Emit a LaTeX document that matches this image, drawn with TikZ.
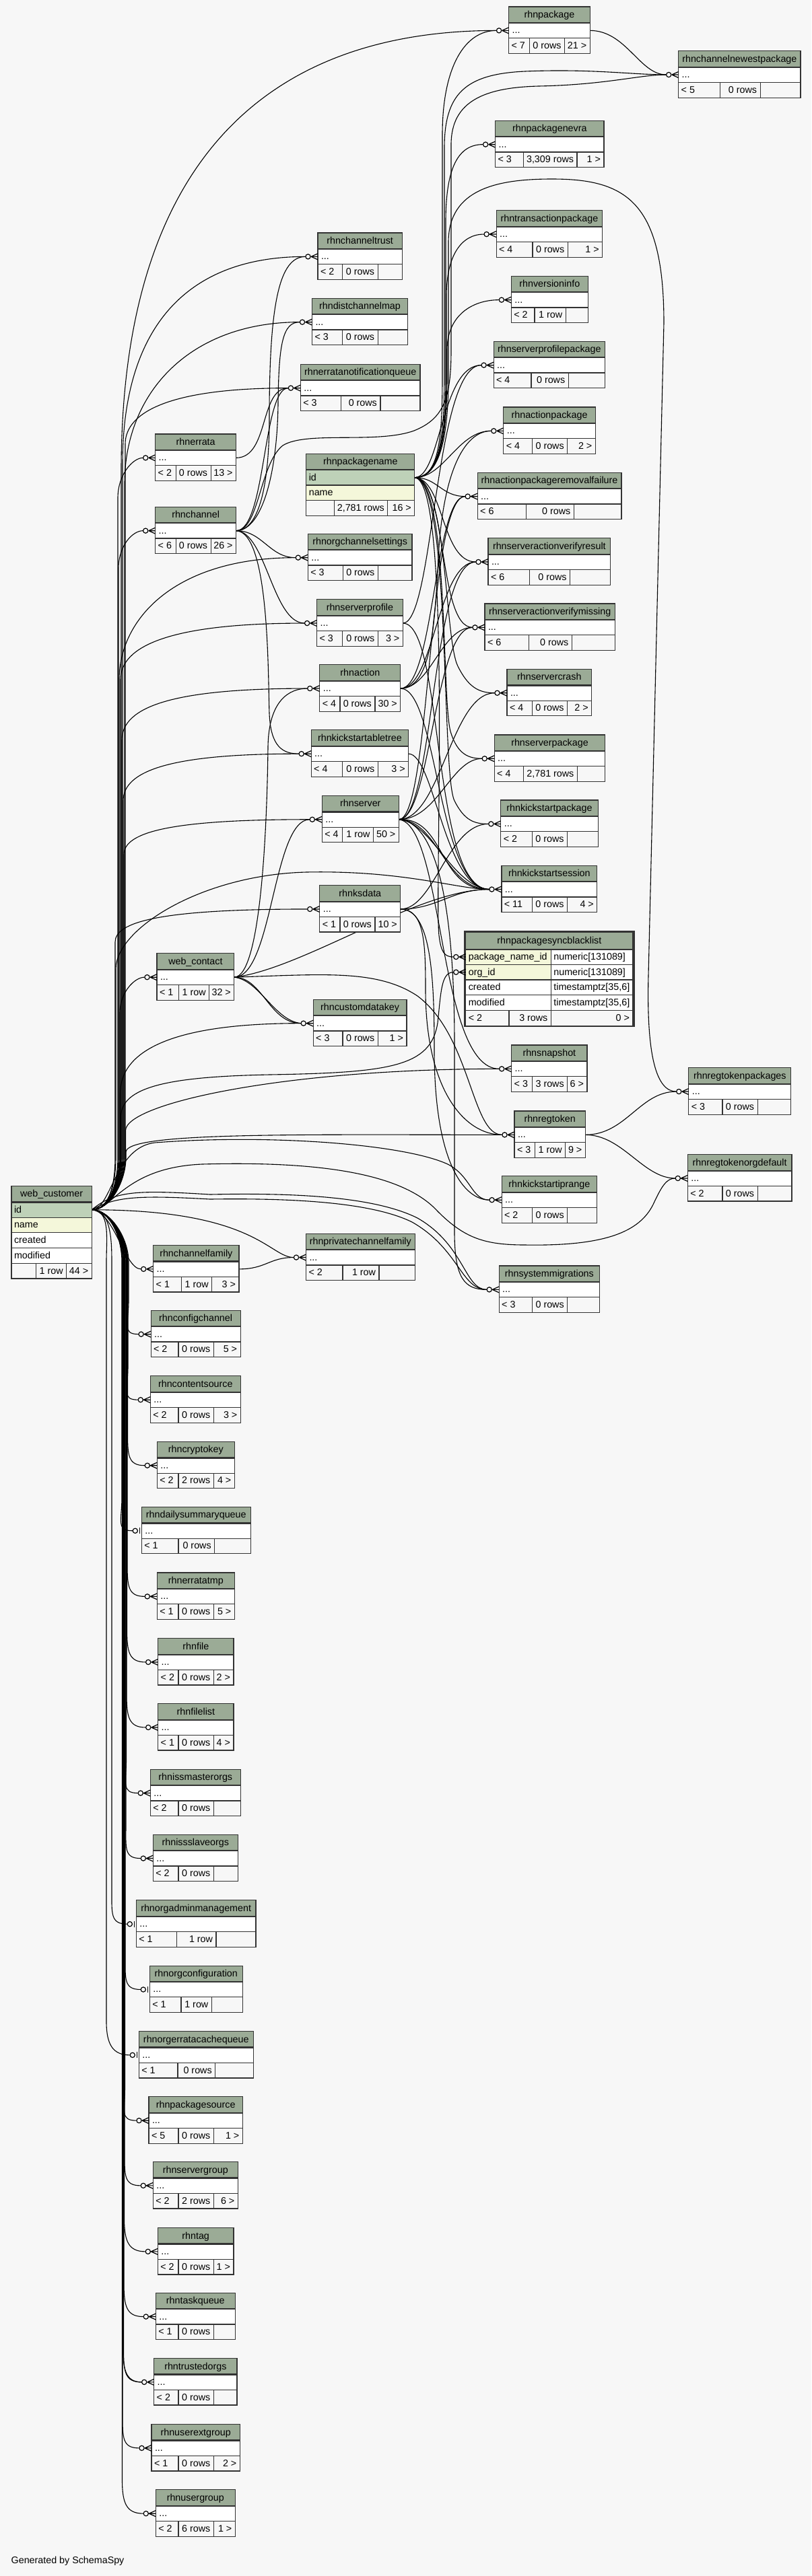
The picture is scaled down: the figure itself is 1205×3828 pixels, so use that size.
\documentclass[tikz,border=0pt]{standalone}
\usepackage{fontspec}
\setmainfont{Liberation Sans}
\usetikzlibrary{calc}
\pgfdeclarelayer{bottom}
\pgfdeclarelayer{edges}
\pgfsetlayers{bottom,edges,main}
\definecolor{bgc}{HTML}{F7F7F7}
\definecolor{hdrc}{HTML}{9BAB96}
\definecolor{pkc}{HTML}{BED1B8}
\definecolor{idxc}{HTML}{F4F7DA}
\definecolor{bc}{HTML}{333333}
\tikzset{
 fk/.style={draw=black, line width=1.1pt},
 mk/.style={draw=black, line width=1.2pt},
 cellb/.style={draw=bc, line width=1.2pt, inner sep=0pt, outer sep=0pt, anchor=north west},
 hdr/.style={cellb, fill=hdrc, minimum height=24pt},
 rowc/.style={cellb, fill=white, minimum height=22.7pt},
 ftc/.style={cellb, fill=bgc, minimum height=22.7pt},
 txt/.style={inner sep=0pt, outer sep=0pt, text height=12pt, text depth=3pt},
 htxt/.style={txt, anchor=center},
 ltxt/.style={txt, anchor=west},
 rtxt/.style={txt, anchor=east},
}
\newcommand\crowmark[2]{%
 \draw[mk, fill=white] (#1-14.5,#2) circle[radius=3.6pt];
 \draw[mk] (#1-10,#2) -- (#1,#2-4.5) (#1-10,#2) -- (#1,#2) (#1-10,#2) -- (#1,#2+4.5);}
\newcommand\onemark[2]{%
 \draw[mk, fill=white] (#1-9.5,#2) circle[radius=3.6pt];
 \draw[mk, line width=1.6pt] (#1-3,#2-4.5) -- (#1-3,#2+4.5);}
\newcommand\dbcore[9]{%
 \node[hdr, minimum width={#3-#2}] (#1) at (#2,#4) {};
 \node[htxt] (#1-title) at (#1.center) {\detokenize{#1}};
 \node[rowc, minimum width={#3-#2}] (#1-row) at (#2,#4+24) {};
 \node[ltxt] (#1-dots) at ([xshift=5pt]#1-row.west) {...};
 \node[ftc, minimum width={#5-#2}] (#1-fa) at (#2,#4+46.7) {};
 \node[ftc, minimum width={#6-#5}] (#1-fb) at (#5,#4+46.7) {};
 \node[ftc, minimum width={#3-#6}] (#1-fc) at (#6,#4+46.7) {};
 \node[ltxt] (#1-fat) at ([xshift=4pt]#1-fa.west) {#7};
 \node[rtxt] (#1-fbt) at ([xshift=-5pt]#1-fb.east) {#8};
 \node[rtxt] (#1-fct) at ([xshift=-5pt]#1-fc.east) {#9};
 \draw[bc, line width=2.2pt] (#1.south west) -- (#1.south east);
 \coordinate (#1-out) at (#1-row.east);}
\newcommand\dbtable[9]{\dbcore{#1}{#2}{#3}{#4}{#5}{#6}{#7}{#8}{#9}%
 \crowmark{#2}{#4+35.35}\coordinate (#1-in) at (#2-18.3,#4+35.35);}
\newcommand\dbtableone[9]{\dbcore{#1}{#2}{#3}{#4}{#5}{#6}{#7}{#8}{#9}%
 \onemark{#2}{#4+35.35}\coordinate (#1-in) at (#2-13.3,#4+35.35);}
\newcommand\fk[4]{\draw[fk] (#1) .. controls (#3) and (#4) .. (#2);}
\newcommand\wcup[5]{\draw[fk] (wc-out) .. controls +(28,0) and +(0,35) .. (#2,1720) -- (#2,#3) .. controls +(0,-#4) and +(-#5,0) .. (#1-in);}
\newcommand\wcdown[3]{\draw[fk] (wc-out) .. controls +(28,0) and +(0,-35) .. (#2,1875) -- (#2,#3-50) .. controls +(0,35) and +(-25,0) .. (#1-in);}
\begin{document}
\begin{tikzpicture}[x=1pt,y=-1pt,font=\fontsize{14.3pt}{17pt}\selectfont]
\useasboundingbox (0,0) rectangle (1205,3828);
\begin{pgfonlayer}{bottom}
\fill[bgc] (0,0) rectangle (1205,3828);
\end{pgfonlayer}

% ---------- tables ----------
\dbtable{rhnpackage}{755.6}{876.2}{10}{786.3}{838.6}{< 7}{0 rows}{21 >}
\dbtable{rhnchannelnewestpackage}{1007.7}{1189}{75.7}{1069.2}{1129.1}{< 5}{0 rows}{}
\dbtable{rhnpackagenevra}{735.6}{897}{179.3}{777.1}{857}{< 3}{3,309 rows}{1 >}
\dbtable{rhntransactionpackage}{737.1}{894.7}{312.7}{790.9}{843.2}{< 4}{0 rows}{1 >}
\dbtable{rhnversioninfo}{759.4}{873.2}{410.3}{794}{840.1}{< 2}{1 row}{}
\dbtable{rhnchanneltrust}{472}{597.2}{346}{508.8}{561.1}{< 2}{0 rows}{}
\dbtable{rhndistchannelmap}{463.5}{605.5}{443.3}{508.8}{561.1}{< 3}{0 rows}{}
\dbtable{rhnerratanotificationqueue}{446.4}{623.9}{541.3}{506.7}{564.9}{< 3}{0 rows}{}
\dbtable{rhnerrata}{230.7}{350.6}{645}{261.2}{313.1}{< 2}{0 rows}{13 >}
\dbtable{rhnchannel}{230.7}{350.6}{753.3}{261.2}{313.1}{< 6}{0 rows}{26 >}
\dbtable{rhnorgchannelsettings}{457.3}{612}{793.3}{509.2}{561.4}{< 3}{0 rows}{}
\dbtable{rhnserverprofile}{470.6}{598.3}{890.7}{508.5}{561.4}{< 3}{0 rows}{3 >}
\dbtable{rhnaction}{474.8}{594.8}{987.7}{505}{556.9}{< 4}{0 rows}{30 >}
\dbtable{rhnkickstartabletree}{462.2}{606.7}{1084.8}{508.8}{561.4}{< 4}{0 rows}{3 >}
\dbtable{rhnserver}{478.3}{592.3}{1182.4}{508.8}{554.4}{< 4}{1 row}{50 >}
\dbtable{rhnksdata}{474.8}{594.8}{1315.6}{505}{556.9}{< 1}{0 rows}{10 >}
\dbtable{web_contact}{233}{347.8}{1416.8}{265.2}{310.7}{< 1}{1 row}{32 >}
\dbtable{rhncustomdatakey}{465.2}{604}{1485.3}{508.9}{561.2}{< 3}{0 rows}{1 >}
\dbtable{rhnchannelfamily}{227.7}{354.9}{1850.5}{269.2}{314.7}{< 1}{1 row}{3 >}
\dbtable{rhnprivatechannelfamily}{454.5}{616.1}{1833.2}{508.9}{563}{< 2}{1 row}{}
\dbtable{rhnconfigchannel}{224.1}{357.1}{1947.3}{265}{317.3}{< 2}{0 rows}{5 >}
\dbtable{rhnserverprofilepackage}{733.1}{898.6}{507.3}{789}{844.2}{< 4}{0 rows}{}
\dbtable{rhnactionpackage}{747.8}{884.3}{605}{790.6}{842.7}{< 4}{0 rows}{2 >}
\dbtable{rhnactionpackageremovalfailure}{709.2}{922.9}{702.3}{781.3}{852.3}{< 6}{0 rows}{}
\dbtable{rhnserveractionverifyresult}{725}{906.7}{799.7}{786.7}{846.5}{< 6}{0 rows}{}
\dbtable{rhnserveractionverifymissing}{720}{913.3}{897}{785.2}{849.3}{< 6}{0 rows}{}
\dbtable{rhnservercrash}{753}{878.7}{994.4}{790.5}{842.6}{< 4}{0 rows}{2 >}
\dbtable{rhnserverpackage}{734.2}{898.8}{1091.9}{777.1}{857.4}{< 4}{2,781 rows}{}
\dbtable{rhnkickstartpackage}{743.8}{888.2}{1189}{790.5}{842.6}{< 2}{0 rows}{}
\dbtable{rhnkickstartsession}{744.9}{886.8}{1286.2}{790.5}{842.6}{< 11}{0 rows}{4 >}
\dbtable{rhnsnapshot}{759.7}{872}{1553}{790.6}{842.7}{< 3}{3 rows}{6 >}
\dbtable{rhnregtoken}{764}{869.3}{1651}{794.8}{839.6}{< 3}{1 row}{9 >}
\dbtable{rhnkickstartiprange}{745.1}{886.6}{1747.8}{790.6}{842.7}{< 2}{0 rows}{}
\dbtable{rhnsystemmigrations}{741.2}{890.5}{1881}{790.6}{842.7}{< 3}{0 rows}{}
\dbtable{rhnregtokenpackages}{1022.8}{1174.8}{1586.7}{1073}{1125.1}{< 3}{0 rows}{}
\dbtable{rhnregtokenorgdefault}{1021.3}{1176}{1715.6}{1073}{1125.1}{< 2}{0 rows}{}
\dbtable{rhncontentsource}{223.3}{357.3}{2044.8}{265}{317.3}{< 2}{0 rows}{3 >}
\dbtable{rhncryptokey}{233.3}{348.3}{2142.4}{265}{317.3}{< 2}{2 rows}{4 >}
\dbtableone{rhndailysummaryqueue}{210.3}{372.3}{2239.4}{265}{318.7}{< 1}{0 rows}{}
\dbtable{rhnerratatmp}{233.3}{348.3}{2337}{265}{317.3}{< 1}{0 rows}{5 >}
\dbtable{rhnfile}{234.7}{347}{2434.6}{265}{317.3}{< 2}{0 rows}{2 >}
\dbtable{rhnfilelist}{234.7}{347}{2531.6}{265}{317.3}{< 1}{0 rows}{4 >}
\dbtable{rhnissmasterorgs}{223.3}{357.3}{2629.2}{265}{317.3}{< 2}{0 rows}{}
\dbtable{rhnissslaveorgs}{227.3}{353.3}{2726.2}{265}{317.3}{< 2}{0 rows}{}
\dbtableone{rhnorgadminmanagement}{202.3}{380}{2823.8}{262.7}{321}{< 1}{1 row}{}
\dbtableone{rhnorgconfiguration}{222.3}{360.3}{2921.1}{269}{314.3}{< 1}{1 row}{}
\dbtableone{rhnorgerratacachequeue}{206.3}{376.3}{3018.5}{264}{319.7}{< 1}{0 rows}{}
\dbtable{rhnpackagesource}{221}{360.3}{3115.8}{265}{317.3}{< 5}{0 rows}{1 >}
\dbtable{rhnservergroup}{227.3}{353.3}{3212.5}{265}{317.3}{< 2}{2 rows}{6 >}
\dbtable{rhntag}{234.3}{347}{3310.5}{265}{317.3}{< 2}{0 rows}{1 >}
\dbtable{rhntaskqueue}{231.3}{349.3}{3407.2}{265}{317.3}{< 1}{0 rows}{}
\dbtable{rhntrustedorgs}{228.7}{352}{3504.5}{265}{317.3}{< 2}{0 rows}{}
\dbtable{rhnuserextgroup}{225}{356.3}{3602.5}{265}{317.3}{< 1}{0 rows}{2 >}
\dbtable{rhnusergroup}{231.3}{349.3}{3699.8}{265}{317.3}{< 2}{6 rows}{1 >}

% web_customer
\node[hdr, minimum width=119.2] (web_customer) at (17,1762.4) {};
\node[htxt] (web_customer-title) at (web_customer.center) {web\_customer};
\node[rowc, fill=pkc, minimum width=119.2] (web_customer-id) at (17,1786.4) {};
\node[ltxt] (web_customer-idt) at ([xshift=4pt]web_customer-id.west) {id};
\node[rowc, fill=idxc, minimum width=119.2] (web_customer-name) at (17,1809.1) {};
\node[ltxt] (web_customer-namet) at ([xshift=4pt]web_customer-name.west) {name};
\node[rowc, minimum width=119.2] (web_customer-created) at (17,1831.8) {};
\node[ltxt] (web_customer-createdt) at ([xshift=4pt]web_customer-created.west) {created};
\node[rowc, minimum width=119.2] (web_customer-modified) at (17,1854.5) {};
\node[ltxt] (web_customer-modifiedt) at ([xshift=4pt]web_customer-modified.west) {modified};
\node[ftc, minimum width=36.1] (web_customer-fa) at (17,1877.2) {};
\node[ftc, minimum width=45.6] (web_customer-fb) at (53.1,1877.2) {};
\node[ftc, minimum width=37.5] (web_customer-fc) at (98.7,1877.2) {};
\node[rtxt] (web_customer-fbt) at ([xshift=-5pt]web_customer-fb.east) {1 row};
\node[rtxt] (web_customer-fct) at ([xshift=-5pt]web_customer-fc.east) {44 >};
\draw[bc, line width=2.2pt] (web_customer.south west) -- (web_customer.south east);
\coordinate (wc-out) at (web_customer-id.east);

% rhnpackagename
\node[hdr, minimum width=161] (rhnpackagename) at (454.8,674.3) {};
\node[htxt] (rhnpackagename-title) at (rhnpackagename.center) {rhnpackagename};
\node[rowc, fill=pkc, minimum width=161] (rhnpackagename-id) at (454.8,698.3) {};
\node[ltxt] (rhnpackagename-idt) at ([xshift=4pt]rhnpackagename-id.west) {id};
\node[rowc, fill=idxc, minimum width=161] (rhnpackagename-name) at (454.8,721) {};
\node[ltxt] (rhnpackagename-namet) at ([xshift=4pt]rhnpackagename-name.west) {name};
\node[ftc, minimum width=41.4] (rhnpackagename-fa) at (454.8,743.7) {};
\node[ftc, minimum width=79.6] (rhnpackagename-fb) at (496.2,743.7) {};
\node[ftc, minimum width=40] (rhnpackagename-fc) at (575.8,743.7) {};
\node[rtxt] (rhnpackagename-fbt) at ([xshift=-5pt]rhnpackagename-fb.east) {2,781 rows};
\node[rtxt] (rhnpackagename-fct) at ([xshift=-5pt]rhnpackagename-fc.east) {16 >};
\draw[bc, line width=2.2pt] (rhnpackagename.south west) -- (rhnpackagename.south east);
\coordinate (pn-out) at (rhnpackagename-id.east);

% rhnpackagesyncblacklist
\draw[bc, line width=2.7pt] (690.45,1384.4) rectangle (941.25,1524.9);
\node[hdr, minimum width=248.1, minimum height=24.9pt] (rhnpackagesyncblacklist) at (691.8,1385.7) {};
\node[htxt] (bl-title) at (rhnpackagesyncblacklist.center) {rhnpackagesyncblacklist};
\node[rowc, fill=idxc, minimum width=126.6] (bl-r1a) at (691.8,1410.6) {};
\node[rowc, minimum width=121.5] (bl-r1b) at (818.4,1410.6) {};
\node[rowc, fill=idxc, minimum width=126.6] (bl-r2a) at (691.8,1433.3) {};
\node[rowc, minimum width=121.5] (bl-r2b) at (818.4,1433.3) {};
\node[rowc, minimum width=126.6] (bl-r3a) at (691.8,1456) {};
\node[rowc, minimum width=121.5] (bl-r3b) at (818.4,1456) {};
\node[rowc, minimum width=126.6] (bl-r4a) at (691.8,1478.7) {};
\node[rowc, minimum width=121.5] (bl-r4b) at (818.4,1478.7) {};
\node[ftc, minimum width=64.1] (bl-fa) at (691.8,1501.4) {};
\node[ftc, minimum width=62.5] (bl-fb) at (755.9,1501.4) {};
\node[ftc, minimum width=121.5] (bl-fc) at (818.4,1501.4) {};
\node[ltxt] (bl-t1a) at ([xshift=4pt]bl-r1a.west) {package\_name\_id};
\node[ltxt] (bl-t1b) at ([xshift=4pt]bl-r1b.west) {numeric[131089]};
\node[ltxt] (bl-t2a) at ([xshift=4pt]bl-r2a.west) {org\_id};
\node[ltxt] (bl-t2b) at ([xshift=4pt]bl-r2b.west) {numeric[131089]};
\node[ltxt] (bl-t3a) at ([xshift=4pt]bl-r3a.west) {created};
\node[ltxt] (bl-t3b) at ([xshift=4pt]bl-r3b.west) {timestamptz[35,6]};
\node[ltxt] (bl-t4a) at ([xshift=4pt]bl-r4a.west) {modified};
\node[ltxt] (bl-t4b) at ([xshift=4pt]bl-r4b.west) {timestamptz[35,6]};
\node[ltxt] (bl-fat) at ([xshift=4pt]bl-fa.west) {< 2};
\node[rtxt] (bl-fbt) at ([xshift=-5pt]bl-fb.east) {3 rows};
\node[rtxt] (bl-fct) at ([xshift=-5pt]bl-fc.east) {0 >};
\draw[bc, line width=2.2pt] (rhnpackagesyncblacklist.south west) -- (rhnpackagesyncblacklist.south east);
\crowmark{691.8}{1422}
\crowmark{691.8}{1444.65}
\coordinate (blpkg-in) at (673.5,1422);
\coordinate (blorg-in) at (673.5,1444.65);

\node[ltxt] (credit) at (16.7,3805) {Generated by SchemaSpy};

% ---------- connectors ----------
\begin{pgfonlayer}{edges}
% web_customer, upwards
\wcup{rhnpackage}{180}{700}{450}{350}
\wcup{rhnchanneltrust}{182}{690}{200}{180}
\wcup{rhndistchannelmap}{185}{720}{140}{160}
\wcup{rhnerratanotificationqueue}{186}{660}{50}{170}
\wcup{rhnerrata}{175}{740}{35}{15}
\wcup{rhnchannel}{176}{845}{35}{15}
\wcup{rhnorgchannelsettings}{177}{1010}{90}{180}
\wcup{rhnserverprofile}{179}{1010}{50}{200}
\wcup{rhnaction}{181}{1100}{50}{200}
\wcup{rhnkickstartabletree}{183}{1190}{45}{190}
\wcup{rhnserver}{184}{1270}{35}{200}
\wcup{rhnksdata}{171}{1400}{30}{220}
\wcup{web_contact}{178}{1505}{30}{15}
\wcup{rhncustomdatakey}{178.5}{1625}{60}{200}
\wcup{rhnsnapshot}{186.5}{1680}{40}{320}
\wcup{rhnregtoken}{187}{1712}{30}{300}
\draw[fk] (wc-out) .. controls +(28,0) and +(0,35) .. (172,1720) -- (172,1440) .. controls (172,1380) and (300,1300) .. (455,1296) .. controls (600,1293) and (680,1321.55) .. (rhnkickstartsession-in);
\draw[fk] (wc-out) .. controls +(28,0) and +(0,35) .. (179.5,1720) -- (179.5,1660) .. controls (179.5,1615) and (250,1600) .. (400,1597) .. controls (580,1594) and (640,1585) .. (650,1520) .. controls (655,1475) and (655,1444.65) .. (blorg-in);
\draw[fk] (wc-out) .. controls (165,1797.75) and (170,1705) .. (230,1698) .. controls (400,1685) and (600,1700) .. (665,1730) .. controls (700,1748) and (700,1783.15) .. (rhnkickstartiprange-in);
\draw[fk] (wc-out) .. controls (168,1797.75) and (185,1735) .. (300,1730) .. controls (480,1725) and (600,1745) .. (650,1800) .. controls (690,1840) and (720,1850) .. (780,1850) .. controls (900,1852) and (950,1830) .. (970,1790) .. controls (983,1762) and (990,1750.95) .. (rhnregtokenorgdefault-in);
\draw[fk] (wc-out) .. controls (170,1770) and (200,1768) .. (312,1775) .. controls (450,1772) and (560,1780) .. (620,1810) .. controls (690,1850) and (690,1916.35) .. (rhnsystemmigrations-in);
\draw[fk] (wc-out) .. controls (172,1778) and (205,1776) .. (312,1782) .. controls (445,1780) and (555,1788) .. (612,1816) .. controls (682,1856) and (685,1916.35) .. (rhnsystemmigrations-in);
\draw[fk] (wc-out) .. controls (380,1797.75) and (400,1868.55) .. (rhnprivatechannelfamily-in);
\draw[fk] (wc-out) .. controls (170,1800) and (185,1885.85) .. (rhnchannelfamily-in);
% web_customer, downwards
\wcdown{rhnconfigchannel}{191}{1982.65}
\wcdown{rhncontentsource}{190}{2080.15}
\wcdown{rhncryptokey}{189.5}{2177.75}
\wcdown{rhndailysummaryqueue}{181}{2274.75}
\wcdown{rhnerratatmp}{189}{2372.35}
\wcdown{rhnfile}{188.5}{2469.95}
\wcdown{rhnfilelist}{188}{2566.95}
\wcdown{rhnissmasterorgs}{187.5}{2664.55}
\wcdown{rhnissslaveorgs}{187}{2761.55}
\wcdown{rhnorgadminmanagement}{166}{2859.15}
\wcdown{rhnorgconfiguration}{186}{2956.45}
\wcdown{rhnorgerratacachequeue}{158}{3053.85}
\wcdown{rhnpackagesource}{185.5}{3151.15}
\wcdown{rhnservergroup}{185}{3247.85}
\wcdown{rhntag}{184.5}{3345.85}
\wcdown{rhntaskqueue}{184}{3442.55}
\wcdown{rhntrustedorgs}{183.5}{3539.85}
\wcdown{rhntrustedorgs}{182.5}{3534}
\wcdown{rhnuserextgroup}{182}{3637.85}
\wcdown{rhnusergroup}{181.5}{3735.15}

% rhnpackage
\fk{rhnpackage-out}{rhnchannelnewestpackage-in}{930,45.35}{950,111.05}
% rhnpackagename
\draw[fk] (pn-out) .. controls (650,709.65) and (657,660) .. (657,560) -- (657,200) .. controls (657,100) and (690,45.35) .. (rhnpackage-in);
\draw[fk] (pn-out) .. controls (650,709.65) and (660,660) .. (660,560) -- (660,220) .. controls (660,140) and (690,110) .. (780,106) .. controls (880,102) and (940,111.05) .. (rhnchannelnewestpackage-in);
\draw[fk] (pn-out) .. controls (650,709.65) and (662,660) .. (662,560) -- (662,330) .. controls (662,250) and (680,214.65) .. (rhnpackagenevra-in);
\draw[fk] (pn-out) .. controls (650,709.65) and (663,660) .. (663,560) -- (663,440) .. controls (663,380) and (685,348.05) .. (rhntransactionpackage-in);
\draw[fk] (pn-out) .. controls (650,709.65) and (664,660) .. (664,560) -- (664,520) .. controls (664,470) and (700,445.65) .. (rhnversioninfo-in);
\draw[fk] (pn-out) .. controls (650,709.65) and (666,660) .. (666,560) -- (666,360) .. controls (666,280) and (740,266) .. (820,266) .. controls (930,266) and (986,300) .. (986,480) -- (963,1450) .. controls (960,1570) and (975,1622.05) .. (rhnregtokenpackages-in);
\fk{pn-out}{rhnserverprofilepackage-in}{655,709.65}{655,542.65}
\fk{pn-out}{rhnactionpackage-in}{660,709.65}{680,640.35}
\fk{pn-out}{rhnactionpackageremovalfailure-in}{650,709.65}{655,737.65}
\fk{pn-out}{rhnserveractionverifyresult-in}{660,712}{655,835.05}
\fk{pn-out}{rhnserveractionverifymissing-in}{665,712}{650,932.35}
\draw[fk] (pn-out) .. controls (665,712) and (660,950) .. (680,990) .. controls (695,1020) and (710,1029.75) .. (rhnservercrash-in);
\draw[fk] (pn-out) .. controls (668,712) and (655,1050) .. (670,1090) .. controls (680,1120) and (695,1127.25) .. (rhnserverpackage-in);
\draw[fk] (pn-out) .. controls (670,712) and (655,1150) .. (675,1190) .. controls (690,1220) and (705,1224.35) .. (rhnkickstartpackage-in);
\draw[fk] (pn-out) .. controls (672,712) and (645,1330) .. (652,1390) .. controls (655,1415) and (660,1422) .. (blpkg-in);
% rhnaction
\draw[fk] (rhnaction-out) .. controls (640,1023.05) and (645,930) .. (650,850) .. controls (655,700) and (690,640.35) .. (rhnactionpackage-in);
\fk{rhnaction-out}{rhnactionpackageremovalfailure-in}{645,1023.05}{645,737.65}
\fk{rhnaction-out}{rhnserveractionverifyresult-in}{645,1023.05}{650,835.05}
\fk{rhnaction-out}{rhnserveractionverifymissing-in}{640,1023.05}{655,932.35}
\fk{rhnaction-out}{rhnkickstartsession-in}{650,1023.05}{650,1321.55}
% rhnserver
\fk{rhnserver-out}{rhnactionpackageremovalfailure-in}{640,1217.75}{635,737.65}
\fk{rhnserver-out}{rhnserveractionverifyresult-in}{645,1217.75}{640,835.05}
\fk{rhnserver-out}{rhnserveractionverifymissing-in}{640,1217.75}{645,932.35}
\fk{rhnserver-out}{rhnservercrash-in}{655,1217.75}{670,1029.75}
\fk{rhnserver-out}{rhnserverpackage-in}{650,1217.75}{670,1127.25}
\fk{rhnserver-out}{rhnkickstartsession-in}{650,1217.75}{660,1321.55}
\fk{rhnserver-out}{rhnkickstartsession-in}{640,1220}{672,1318}
\fk{rhnserver-out}{rhnkickstartsession-in}{662,1214}{650,1324}
\fk{rhnserver-out}{rhnsnapshot-in}{660,1225}{650,1588.35}
\draw[fk] (rhnserver-out) .. controls (660,1222) and (675,1400) .. (675,1550) -- (675,1830) .. controls (675,1900) and (690,1916.35) .. (rhnsystemmigrations-in);
% rhnkickstartabletree
\fk{rhnkickstartabletree-out}{rhnkickstartsession-in}{645,1120.15}{660,1321.55}
% rhnksdata
\fk{rhnksdata-out}{rhnkickstartpackage-in}{645,1350.95}{665,1224.35}
\fk{rhnksdata-out}{rhnkickstartsession-in}{650,1350.95}{670,1321.55}
\draw[fk] (rhnksdata-out) .. controls (630,1350.95) and (632,1400) .. (632,1470) .. controls (632,1620) and (690,1686.35) .. (rhnregtoken-in);
\draw[fk] (rhnksdata-out) .. controls (640,1350.95) and (645,1450) .. (645,1560) .. controls (645,1730) and (690,1783.15) .. (rhnkickstartiprange-in);
% rhnserverprofile
\fk{rhnserverprofile-out}{rhnserverprofilepackage-in}{645,926.05}{645,542.65}
\fk{rhnserverprofile-out}{rhnkickstartsession-in}{660,926.05}{640,1321.55}
% web_contact
\draw[fk] (web_contact-out) .. controls (390,1452.15) and (397,1200) .. (398,1110) .. controls (399,1040) and (430,1023.05) .. (rhnaction-in);
\fk{web_contact-out}{rhnserver-in}{405,1452.15}{405,1217.75}
\fk{web_contact-out}{rhncustomdatakey-in}{390,1452.15}{400,1520.65}
\fk{web_contact-out}{rhncustomdatakey-in}{385,1456}{408,1517}
\fk{web_contact-out}{rhnkickstartsession-in}{450,1440}{620,1321.55}
\draw[fk] (web_contact-out) .. controls (480,1448) and (560,1440) .. (620,1480) .. controls (700,1540) and (700,1686.35) .. (rhnregtoken-in);
% rhnchannel
\draw[fk] (rhnchannel-out) .. controls (385,788.65) and (400,720) .. (400,620) .. controls (400,450) and (415,381.35) .. (rhnchanneltrust-in);
\draw[fk] (rhnchannel-out) .. controls (390,788.65) and (412,700) .. (413,600) .. controls (414,510) and (420,478.65) .. (rhndistchannelmap-in);
\fk{rhnchannel-out}{rhnerratanotificationqueue-in}{395,788.65}{390,576.65}
\fk{rhnchannel-out}{rhnorgchannelsettings-in}{390,788.65}{400,828.65}
\fk{rhnchannel-out}{rhnserverprofile-in}{395,790}{405,926.05}
\draw[fk] (rhnchannel-out) .. controls (400,790) and (398,1000) .. (400,1060) .. controls (402,1110) and (420,1120.15) .. (rhnkickstartabletree-in);
\draw[fk] (rhnchannel-out) .. controls (385,788.65) and (385,690) .. (420,662) .. controls (455,640) and (560,660) .. (615,640) .. controls (660,622) and (670,590) .. (670,520) -- (670,215) .. controls (670,150) and (720,130) .. (800,128) .. controls (900,126) and (950,111.05) .. (rhnchannelnewestpackage-in);
% rhnerrata
\fk{rhnerrata-out}{rhnerratanotificationqueue-in}{400,680.35}{385,576.65}
% rhnchannelfamily
\fk{rhnchannelfamily-out}{rhnprivatechannelfamily-in}{395,1885.85}{400,1868.55}
% rhnregtoken
\fk{rhnregtoken-out}{rhnregtokenpackages-in}{930,1686.35}{950,1622.05}
\fk{rhnregtoken-out}{rhnregtokenorgdefault-in}{925,1686.35}{955,1750.95}
\end{pgfonlayer}
\end{tikzpicture}
\end{document}
